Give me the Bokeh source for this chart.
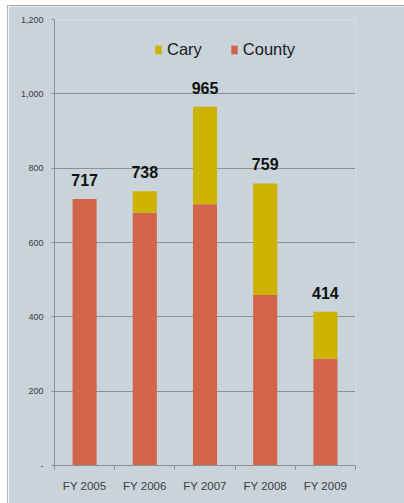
from bokeh.plotting import figure
from bokeh.models import FixedTicker, NumeralTickFormatter, Range1d, Legend, LegendItem, ColumnDataSource
from bokeh.core.properties import value
from bokeh.embed import file_html
from bokeh.resources import INLINE

categories = ["FY 2005", "FY 2006", "FY 2007", "FY 2008", "FY 2009"]
county = [717, 680, 703, 459, 287]
cary = [0, 58, 262, 300, 127]
totals = [717, 738, 965, 759, 414]
y_ticks = [0, 200, 400, 600, 800, 1000, 1200]

COUNTY_C = "#d3644a"
CARY_C = "#cdb300"
BG = "#c8d3da"
FONT = "Liberation Sans"

xs = list(range(len(categories)))
src = ColumnDataSource(dict(x=xs, county=county, cary=cary, total=totals,
                            lab=[str(t) for t in totals]))

p = figure(width=397, height=498, output_backend="svg", toolbar_location=None,
           x_range=Range1d(-0.5, len(categories) - 0.5), y_range=Range1d(0, 1200),
           min_border_left=46, min_border_right=50, min_border_top=13, min_border_bottom=39,
           margin=(5, 0, 0, 7),
           styles={"border-top": "1px solid #a0a4a8", "border-left": "1px solid #b4b8bc"})
p.background_fill_color = BG
p.border_fill_color = BG
p.outline_line_color = None

rs = p.vbar_stack(["county", "cary"], x="x", width=0.4, source=src,
                  color=[COUNTY_C, CARY_C], line_color=None)

p.text(x="x", y="total", text="lab", source=src, text_align="center",
       text_baseline="alphabetic", y_offset=-19,
       text_font=value(FONT), text_font_style="bold", text_font_size="16px",
       text_color="#111111")

# y axis
p.yaxis.ticker = FixedTicker(ticks=y_ticks)
p.yaxis.formatter = NumeralTickFormatter(format="0,0")
p.yaxis.major_label_overrides = {0: "-"}
p.yaxis.major_label_text_font = FONT
p.yaxis.major_label_text_font_size = "9px"
p.yaxis.major_label_text_color = "#404040"
p.yaxis.axis_line_color = "#8a9095"
p.yaxis.major_tick_line_color = "#8a9095"
p.yaxis.major_tick_out = 3
p.yaxis.major_tick_in = 0
p.yaxis.minor_tick_line_color = None
p.yaxis.major_label_standoff = 8

# x axis
p.xaxis.ticker = FixedTicker(ticks=xs, minor_ticks=[i - 0.5 for i in range(len(categories) + 1)])
p.xaxis.major_label_overrides = {i: c for i, c in enumerate(categories)}
p.xaxis.major_label_text_font = FONT
p.xaxis.major_label_text_font_size = "11.5px"
p.xaxis.major_label_text_color = "#404040"
p.xaxis.axis_line_color = "#8a9095"
p.xaxis.major_tick_line_color = None
p.xaxis.minor_tick_line_color = "#8a9095"
p.xaxis.minor_tick_out = 4
p.xaxis.minor_tick_in = 0
p.xaxis.major_label_standoff = 8

p.xgrid.grid_line_color = None
p.ygrid.grid_line_color = "#8c9398"
p.ygrid.ticker = FixedTicker(ticks=y_ticks)

legend = Legend(items=[LegendItem(label="Cary", renderers=[rs[1]]),
                       LegendItem(label="County", renderers=[rs[0]])],
                orientation="horizontal", location=(100, 406),
                background_fill_alpha=0, border_line_color=None,
                label_text_font=FONT, label_text_font_size="16.5px",
                label_text_color="#1a1a1a", glyph_width=8, glyph_height=11,
                label_standoff=5, spacing=28, padding=0, margin=0)
p.add_layout(legend)

open("out.html", "w").write(file_html(p, INLINE))
